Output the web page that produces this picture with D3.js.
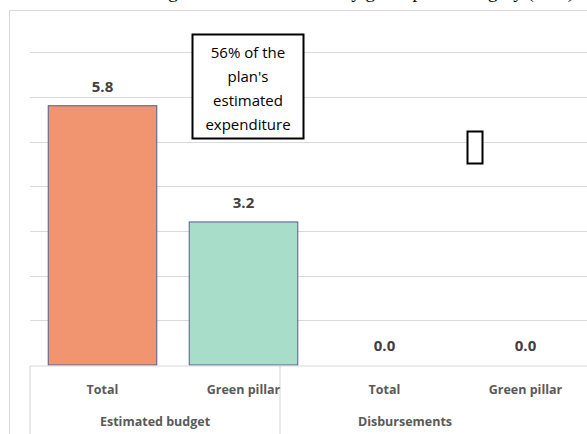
<!DOCTYPE html>
<html>
<head>
<meta charset="utf-8">
<script src="https://cdn.jsdelivr.net/npm/d3@7"></script>
<style>
  body { margin: 0; background: #fff; }
  text { font-family: "Open Sans", "Liberation Sans", sans-serif; }
</style>
</head>
<body>
<svg id="chart" width="587" height="434"></svg>
<script>
// data
const categories = ["Total", "Green pillar", "Total ", "Green pillar "];
const groups = ["Estimated budget", "Disbursements"];
const values = [5.8, 3.2, 0.0, 0.0];
const colors = ["#f0956f", "#a8dec9", "#f0956f", "#a8dec9"];
const gridTicks = [1, 2, 3, 4, 5, 6, 7];

const svg = d3.select("#chart");
const left = 30, right = 596, base = 365;

// title, mostly cropped off the top (as in the reference)
svg.append("text")
  .attr("x", 574).attr("y", -2)
  .attr("text-anchor", "end")
  .style("font-family", "'Liberation Serif', serif")
  .style("font-size", "19px")
  .attr("fill", "#000")
  .text("Budget and disbursements by green pillar category (US$)");

// chart frame
svg.append("rect")
  .attr("x", 9.5).attr("y", 10.5)
  .attr("width", 600).attr("height", 440)
  .attr("fill", "none").attr("stroke", "#d9d9d9");

const x = d3.scaleBand().domain(categories).range([left + 2, right]).paddingInner(0.23).paddingOuter(0.115);
const y = d3.scaleLinear().domain([0, 1]).range([base, base - 44.7]);

// gridlines
svg.append("g").selectAll("line").data(gridTicks).join("line")
  .attr("x1", left).attr("x2", 587)
  .attr("y1", d => Math.round(y(d)) + 0.5).attr("y2", d => Math.round(y(d)) + 0.5)
  .attr("stroke", "#d9d9d9").attr("stroke-width", 1.2);

// bars
svg.append("g").selectAll("rect").data(values).join("rect")
  .attr("x", (d, i) => x(categories[i]))
  .attr("y", d => y(d))
  .attr("width", x.bandwidth())
  .attr("height", d => base - y(d))
  .attr("fill", (d, i) => colors[i])
  .attr("stroke", "#4f5b93").attr("stroke-width", 1);

// value labels
svg.append("g").selectAll("text").data(values).join("text")
  .attr("x", (d, i) => x(categories[i]) + x.bandwidth() / 2)
  .attr("y", d => y(d) - 14)
  .attr("text-anchor", "middle")
  .style("font-size", "15px").style("font-weight", "bold")
  .attr("fill", "#404040")
  .text(d => d.toFixed(1));

// category axis table
const axis = svg.append("g").attr("stroke", "#d9d9d9").attr("stroke-width", 1.2);
axis.append("line").attr("x1", left).attr("x2", 587).attr("y1", base + 1).attr("y2", base + 1);
axis.append("line").attr("x1", left).attr("x2", left).attr("y1", base + 1).attr("y2", 434);
axis.append("line").attr("x1", 280).attr("x2", 280).attr("y1", base + 1).attr("y2", 434);

svg.append("g").selectAll("text").data(categories).join("text")
  .attr("x", d => x(d) + x.bandwidth() / 2)
  .attr("y", 394)
  .attr("text-anchor", "middle")
  .style("font-size", "12.5px").style("font-weight", "bold")
  .attr("fill", "#595959")
  .text(d => d.trim());

const groupX = [155, 405];
svg.append("g").selectAll("text").data(groups).join("text")
  .attr("x", (d, i) => groupX[i])
  .attr("y", 426)
  .attr("text-anchor", "middle")
  .style("font-size", "12.5px").style("font-weight", "bold")
  .attr("fill", "#595959")
  .text(d => d);

// annotation box
svg.append("rect")
  .attr("x", 192.5).attr("y", 34.5).attr("width", 111).attr("height", 104)
  .attr("fill", "#fff").attr("stroke", "#000").attr("stroke-width", 2);
const note = ["56% of the", "plan's", "estimated", "expenditure"];
svg.append("g").selectAll("text").data(note).join("text")
  .attr("x", 248).attr("y", (d, i) => 58 + i * 24)
  .attr("text-anchor", "middle")
  .style("font-size", "15px")
  .attr("fill", "#000")
  .text(d => d);

// empty small box
svg.append("rect")
  .attr("x", 467.5).attr("y", 131.5).attr("width", 15).attr("height", 32)
  .attr("fill", "#fff").attr("stroke", "#000").attr("stroke-width", 2);
</script>
</body>
</html>
